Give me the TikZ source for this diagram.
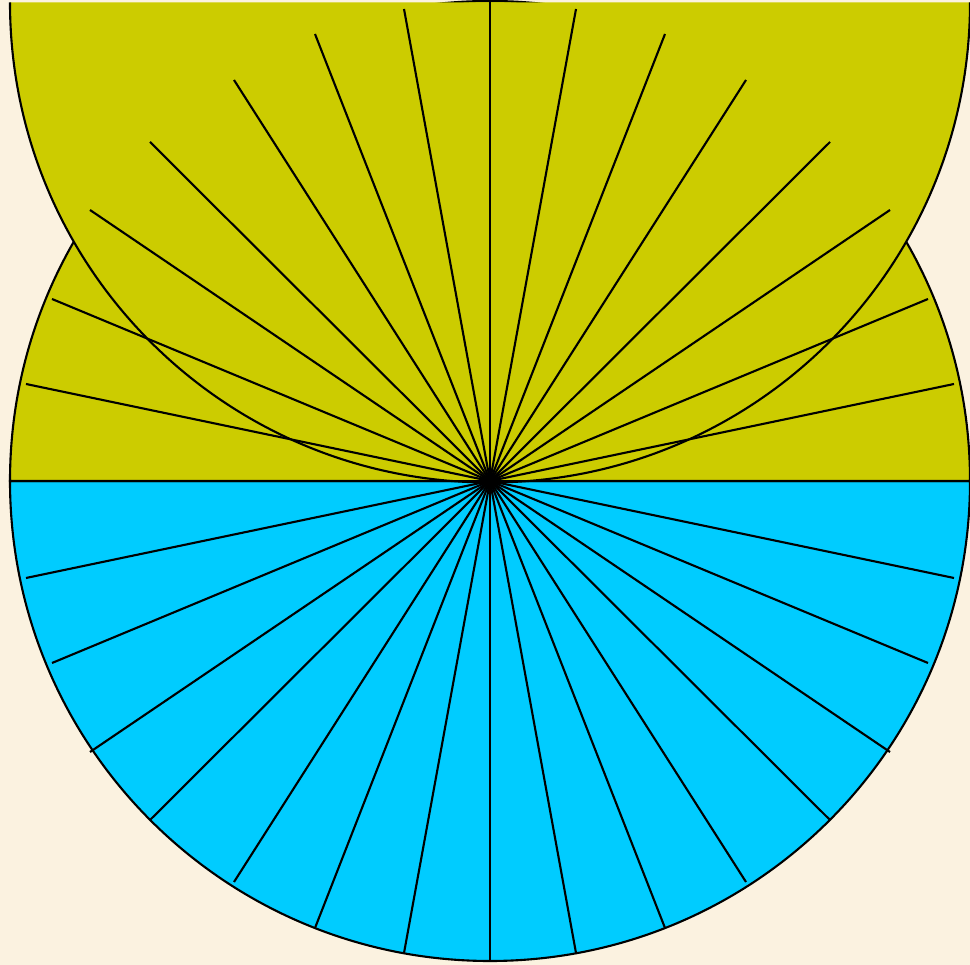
\documentclass[tikz,border=0pt]{standalone}
\definecolor{bg}{RGB}{251,242,224}
\definecolor{olivefill}{RGB}{204,204,0}
\definecolor{cyanfill}{RGB}{0,204,255}
\tikzset{outline/.style={draw=black,line width=0.6pt}}
\begin{document}
\begin{tikzpicture}[x=0.01cm,y=-0.01cm]
\fill[bg] (0,0) rectangle (970,965);
\useasboundingbox (0,0) rectangle (970,965);
\coordinate (c) at (490,481);
% lower half of the circle
\filldraw[fill=cyanfill,outline] (970,481) arc[start angle=0,end angle=180,radius=480] -- cycle;
% upper half of the circle
\filldraw[fill=olivefill,outline] (10,481) arc[start angle=180,end angle=360,radius=480] -- cycle;
% unrolled upper semicircle
\fill[olivefill] (10,2.5) arc[start angle=180,end angle=0,radius=480] -- cycle;
\draw[outline] (10,2.5) arc[start angle=180,end angle=0,radius=480];
% rays (end points as in the picture, mirrored about x=490)
\foreach \dx/\dy in {464/97,438/182,400/271,340/339,256/401,175/447,86/472,0/480}{
  \draw[outline] (c) -- ++(-\dx,\dy);
  \draw[outline] (c) -- ++(\dx,\dy);
  \draw[outline] (c) -- ++(-\dx,-\dy);
  \draw[outline] (c) -- ++(\dx,-\dy);
}
\draw[outline] (10,481) -- (970,481);
\end{tikzpicture}
\end{document}
